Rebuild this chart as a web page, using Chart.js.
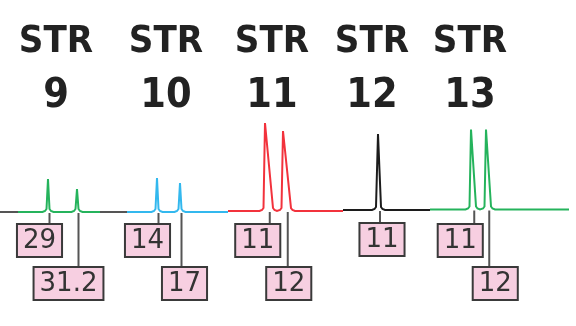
<!DOCTYPE html>
<html>
<head>
<meta charset="utf-8">
<script src="https://cdn.jsdelivr.net/npm/chart.js@4.4.1/dist/chart.umd.min.js"></script>
<style>
  html, body { margin: 0; padding: 0; background: #fff; }
  #wrap { width: 576px; height: 326px; position: relative; }
</style>
</head>
<body>
<div id="wrap"><canvas id="str"></canvas></div>
<script>
// loci and called alleles
var loci = ['9', '10', '11', '12', '13'];
var alleles = [[29, 31.2], [14, 17], [11, 12], [11], [11, 12]];
// peak position along the size axis and peak signal
var peakPos = [[48, 77], [157, 180], [265, 283], [378], [471, 486]];
var peakHeight = [[33, 23], [34, 29], [88, 80], [76], [80, 80]];
// extent of each dye trace and its baseline level
var traceFrom = [18, 127, 228, 343, 430];
var traceTo = [100, 228, 343, 430, 569];
var baseline = [-1, -1, 0, 1, 1.5];
// peak shape (left / right half width)
var peakLeft = [1.5, 1.5, 1.5, 2, 1.5];
var peakRight = [1.5, 1.5, 8, 3, 5];
// where the locus names sit on the size axis
var locusLabelX = [56, 166, 272, 372, 470];

var dyeColors = ['#25b35c', '#33b8ee', '#f2323c', '#1c1c1c', '#25b35c'];
var gapColor = '#555555';
var labelShift = [[-10, -10], [-11, 3], [-12, 1], [2], [-14, 6]];
var boxTop = [224, 267];

function buildTrace(i){
	var b = baseline[i];
	var pts = [{x: traceFrom[i], y: b}];
	for (var k = 0; k < peakPos[i].length; k++) {
		var p = peakPos[i][k], h = peakHeight[i][k];
		var wl = peakLeft[i], wr = peakRight[i];
		pts.push({x: p - wl - 4, y: b});
		pts.push({x: p - wl - 1.5, y: b + 1});
		pts.push({x: p - wl, y: b + 3});
		pts.push({x: p, y: b + h});
		pts.push({x: p + wr, y: b + 3});
		pts.push({x: p + wr + 1.5, y: b + 1});
		pts.push({x: p + wr + 4, y: b});
	}
	pts.push({x: traceTo[i], y: b});
	return pts;
}

var datasets = [];
loci.forEach(function(l, i){
	datasets.push({ label: 'STR ' + l, data: buildTrace(i), borderColor: dyeColors[i], borderWidth: 2, pointRadius: 0, tension: 0, fill: false });
});
datasets.push({ label: 'gap1', data: [{x: 0, y: -1}, {x: traceFrom[0], y: -1}], borderColor: gapColor, borderWidth: 2, pointRadius: 0 });
datasets.push({ label: 'gap2', data: [{x: traceTo[0], y: -1}, {x: traceFrom[1], y: -1}], borderColor: gapColor, borderWidth: 2, pointRadius: 0 });

var calls = {
	id: 'calls',
	afterDatasetsDraw: function(chart){
		var ctx = chart.ctx, xs = chart.scales.x, ys = chart.scales.y;
		ctx.save();
		// locus names
		ctx.fillStyle = '#222';
		ctx.textAlign = 'center';
		ctx.textBaseline = 'alphabetic';
		loci.forEach(function(l, i){
			var cx = xs.getPixelForValue(locusLabelX[i]);
			ctx.font = "bold 38px 'DejaVu Sans Condensed', 'Liberation Sans', sans-serif";
			ctx.fillText('STR', cx, 52);
			ctx.font = "bold 41px 'DejaVu Sans Condensed', 'Liberation Sans', sans-serif";
			ctx.fillText(l, cx, 107);
		});
		// allele call boxes
		ctx.font = "26px 'DejaVu Sans', sans-serif";
		ctx.textBaseline = 'middle';
		loci.forEach(function(l, i){
			for (var k = 0; k < alleles[i].length; k++) {
				var lx = xs.getPixelForValue(peakPos[i][k] + (peakRight[i] - peakLeft[i]) / 2 + 1.5);
				var by = ys.getPixelForValue(baseline[i]);
				var top = alleles[i].length == 1 ? 223 : boxTop[k];
				ctx.strokeStyle = '#555';
				ctx.lineWidth = 2;
				ctx.beginPath();
				ctx.moveTo(lx, by + 1);
				ctx.lineTo(lx, top);
				ctx.stroke();
				var txt = String(alleles[i][k]);
				var w = ctx.measureText(txt).width + 12;
				var cx = lx + labelShift[i][k];
				ctx.fillStyle = '#f7cfe1';
				ctx.fillRect(cx - w / 2, top, w, 33);
				ctx.strokeStyle = '#3a3a3a';
				ctx.strokeRect(cx - w / 2, top, w, 33);
				ctx.fillStyle = '#333';
				ctx.fillText(txt, cx, top + 17.5);
			}
		});
		ctx.restore();
	}
};

new Chart(document.getElementById('str').getContext('2d'), {
	type: 'line',
	data: { datasets: datasets },
	options: {
		responsive: true, maintainAspectRatio: false, animation: false,
		layout: { padding: 0 },
		plugins: { legend: { display: false }, tooltip: { enabled: false }, title: { display: false } },
		scales: {
			x: { type: 'linear', min: 0, max: 576, display: false },
			y: { min: -115, max: 211, display: false }
		}
	},
	plugins: [calls]
});
</script>
</body>
</html>
